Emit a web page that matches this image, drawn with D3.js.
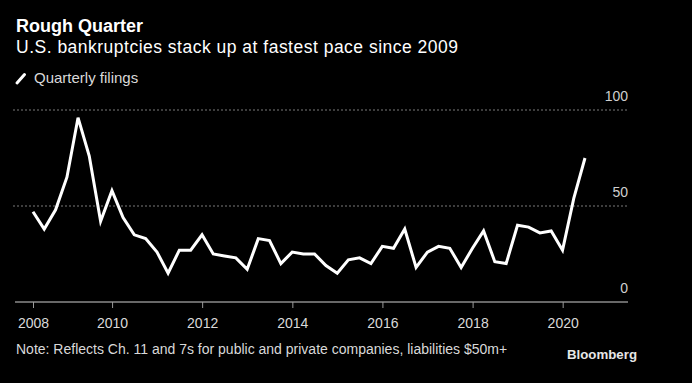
<!DOCTYPE html>
<meta charset="utf-8">

<!-- Load d3.js -->
<script src="https://d3js.org/d3.v7.min.js"></script>

<style>
body {
  margin: 0;
  background: #000;
}
text {
  font-family: "Liberation Sans", Arial, sans-serif;
}
</style>

<!-- Create a div where the graph will take place -->
<div id="my_dataviz"></div>

<script>

// quarterly filings, 2008 Q1 to 2020 Q2
var quarters = [
  '2008-Q1', '2008-Q2', '2008-Q3', '2008-Q4',
  '2009-Q1', '2009-Q2', '2009-Q3', '2009-Q4',
  '2010-Q1', '2010-Q2', '2010-Q3', '2010-Q4',
  '2011-Q1', '2011-Q2', '2011-Q3', '2011-Q4',
  '2012-Q1', '2012-Q2', '2012-Q3', '2012-Q4',
  '2013-Q1', '2013-Q2', '2013-Q3', '2013-Q4',
  '2014-Q1', '2014-Q2', '2014-Q3', '2014-Q4',
  '2015-Q1', '2015-Q2', '2015-Q3', '2015-Q4',
  '2016-Q1', '2016-Q2', '2016-Q3', '2016-Q4',
  '2017-Q1', '2017-Q2', '2017-Q3', '2017-Q4',
  '2018-Q1', '2018-Q2', '2018-Q3', '2018-Q4',
  '2019-Q1', '2019-Q2', '2019-Q3', '2019-Q4',
  '2020-Q1', '2020-Q2'
];

var filings = [
  47, 38, 48, 65, 96, 76, 42, 58, 44, 35,
  33, 26, 15, 27, 27, 35, 25, 24, 23, 17,
  33, 32, 20, 26, 25, 25, 19, 15, 22, 23,
  20, 29, 28, 38, 18, 26, 29, 28, 18, 28,
  37, 21, 20, 40, 39, 36, 37, 27, 54, 75
];

var yTicks = [0, 50, 100];
var yearTicks = ['2008', '2010', '2012', '2014', '2016', '2018', '2020'];

// set the dimensions of the graph
var width = 692,
    height = 383;

var svg = d3.select("#my_dataviz")
  .append("svg")
    .attr("width", width)
    .attr("height", height)
    .style("background", "#000");

// quarter label -> date at quarter end
function quarterEnd(q) {
  var yr = +q.slice(0, 4), n = +q.slice(6);
  return new Date(yr, n * 3, 0);
}

var data = quarters.map(function(q, i) {
  return {date: quarterEnd(q), value: filings[i]};
});

// scales
var x = d3.scaleTime()
  .domain(d3.extent(data, function(d) { return d.date; }))
  .range([33, 585]);

var y = d3.scaleLinear()
  .domain([0, 100])
  .range([302, 110]);

// title block
svg.append("text")
  .attr("x", 16)
  .attr("y", 31.5)
  .attr("fill", "#fff")
  .style("font-size", "18px")
  .style("font-weight", "bold")
  .text("Rough Quarter");

svg.append("text")
  .attr("x", 16)
  .attr("y", 53)
  .attr("fill", "#fff")
  .attr("textLength", 442)
  .attr("lengthAdjust", "spacing")
  .style("font-size", "17.5px")
  .text("U.S. bankruptcies stack up at fastest pace since 2009");

// legend
svg.append("line")
  .attr("x1", 17).attr("y1", 83)
  .attr("x2", 24.5).attr("y2", 74.5)
  .attr("stroke", "#fff")
  .attr("stroke-width", 3)
  .attr("stroke-linecap", "round");

svg.append("text")
  .attr("x", 34)
  .attr("y", 83)
  .attr("fill", "#d9d9d9")
  .style("font-size", "15px")
  .text("Quarterly filings");

// gridlines (dotted) and y labels
svg.selectAll(".grid")
  .data(yTicks.filter(function(d) { return d > 0; }))
  .enter()
  .append("line")
    .attr("x1", 13)
    .attr("x2", 629)
    .attr("y1", function(d) { return y(d); })
    .attr("y2", function(d) { return y(d); })
    .attr("stroke", "#7a7a7a")
    .attr("stroke-width", 1)
    .attr("stroke-dasharray", "2,2");

svg.selectAll(".ylab")
  .data(yTicks)
  .enter()
  .append("text")
    .attr("x", 628)
    .attr("y", function(d) { return y(d) - 9; })
    .attr("text-anchor", "end")
    .attr("fill", "#cfcfcf")
    .style("font-size", "14px")
    .text(function(d) { return d; });

// x axis baseline
svg.append("line")
  .attr("x1", 15)
  .attr("x2", 628)
  .attr("y1", y(0))
  .attr("y2", y(0))
  .attr("stroke", "#cfcfcf")
  .attr("stroke-width", 1);

// year ticks: first one sits on the first data point
var tickDates = yearTicks.map(function(t, i) {
  return i === 0 ? x.domain()[0] : new Date(+t, 0, 1);
});

svg.append("g")
  .attr("transform", "translate(0," + y(0) + ")")
  .call(d3.axisBottom(x)
    .tickValues(tickDates)
    .tickSize(6)
    .tickFormat(function(d, i) { return yearTicks[i]; }))
  .call(function(g) {
    g.select(".domain").remove();
    g.selectAll(".tick line").attr("stroke", "#9a9a9a");
    g.selectAll(".tick text")
      .attr("fill", "#d9d9d9")
      .attr("dy", 0)
      .attr("y", 25.5)
      .style("font-family", "Liberation Sans, Arial, sans-serif")
      .style("font-size", "14px");
  });

// the line
svg.append("path")
  .datum(data)
  .attr("fill", "none")
  .attr("stroke", "#fff")
  .attr("stroke-width", 3)
  .attr("stroke-linejoin", "miter")
  .attr("d", d3.line()
    .x(function(d) { return x(d.date); })
    .y(function(d) { return y(d.value); }));

// footnote + logo
svg.append("text")
  .attr("x", 16)
  .attr("y", 354)
  .attr("fill", "#d9d9d9")
  .style("font-size", "14px")
  .text("Note: Reflects Ch. 11 and 7s for public and private companies, liabilities $50m+");

svg.append("text")
  .attr("x", 567)
  .attr("y", 358.5)
  .attr("fill", "#e6e6e6")
  .attr("textLength", 70)
  .attr("lengthAdjust", "spacingAndGlyphs")
  .style("font-size", "13px")
  .style("font-weight", "bold")
  .text("Bloomberg");

</script>
